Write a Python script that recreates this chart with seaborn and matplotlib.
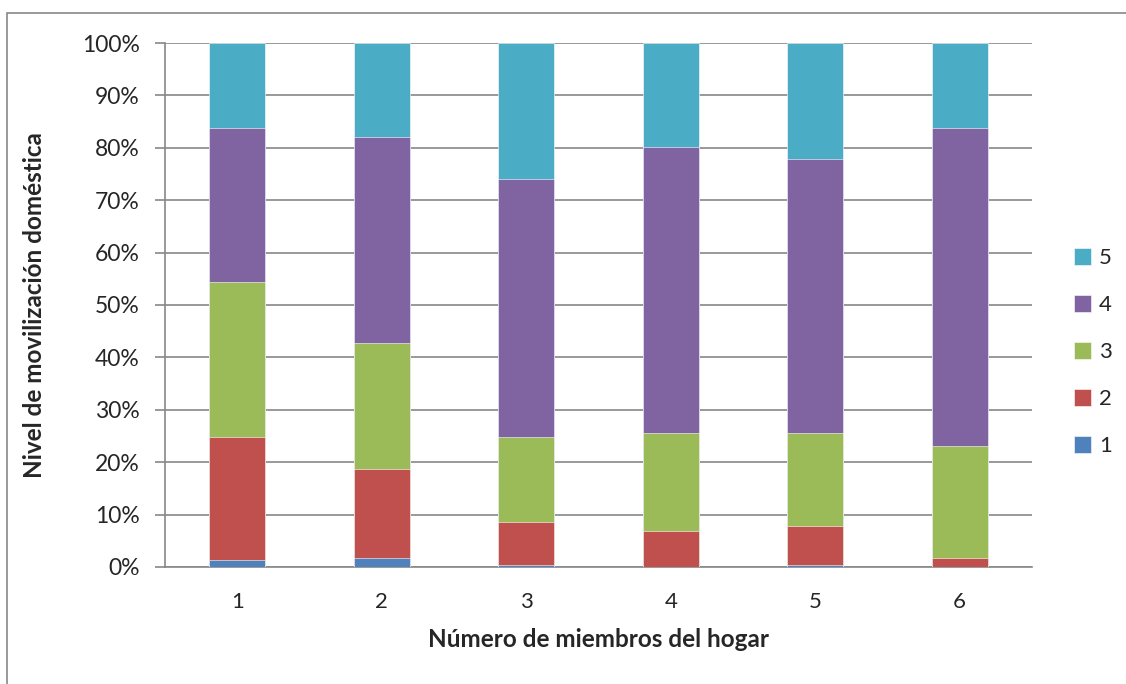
import numpy as np
import pandas as pd
import matplotlib.pyplot as plt
import seaborn as sns
from matplotlib.patches import Rectangle

# ==============================
# DATOS (porcentajes por nivel)
# ==============================
miembros = ["1", "2", "3", "4", "5", "6"]
niveles = ["1", "2", "3", "4", "5"]

nivel_1 = [1.3, 1.8, 0.4, 0.0, 0.4, 0.0]
nivel_2 = [23.5, 16.9, 8.2, 6.9, 7.5, 1.7]
nivel_3 = [29.6, 24.0, 16.2, 18.7, 17.7, 21.4]
nivel_4 = [29.4, 39.4, 49.2, 54.6, 52.3, 60.7]
nivel_5 = [16.2, 17.9, 26.0, 19.8, 22.1, 16.2]

colores = ["#4F81BD", "#C0504D", "#9BBB59", "#8064A2", "#4BACC6"]

df = pd.DataFrame({
    "miembros": miembros,
    "1": nivel_1,
    "2": nivel_2,
    "3": nivel_3,
    "4": nivel_4,
    "5": nivel_5,
})
acum = df[niveles].cumsum(axis=1)

# ==============================
# GRAFICO
# ==============================
sns.set_style("white")
plt.rcParams["font.family"] = ["Lato", "DejaVu Sans"]

fig = plt.figure(figsize=(11.26, 6.84), dpi=100)
ax = fig.add_axes([0.1465, 0.1711, 0.770, 0.766])

# barras apiladas: se dibuja de arriba hacia abajo
for nivel, color in reversed(list(zip(niveles, colores))):
    sns.barplot(
        x=df["miembros"],
        y=acum[nivel],
        color=color,
        saturation=1,
        width=0.39,
        label=nivel,
        edgecolor="white",
        linewidth=0.4,
        ax=ax,
        zorder=3,
    )

ax.set_ylim(0, 100)
ax.set_xlim(-0.5, 5.5)
ax.set_yticks(np.arange(0, 101, 10))
ax.set_yticklabels([f"{v}%" for v in range(0, 101, 10)])
ax.yaxis.grid(True, color="#888888", linewidth=1.2, zorder=0)

ax.set_xticks(np.arange(-0.5, 6, 1), minor=True)
ax.tick_params(axis="x", which="major", length=0, pad=18, labelsize=16)
ax.tick_params(axis="x", which="minor", length=8, width=1.2, color="#888888", direction="out")
ax.tick_params(axis="y", length=7, width=1.2, color="#888888", direction="out", left=True,
               labelsize=16.5, pad=11)

for lado in ["top", "right"]:
    ax.spines[lado].set_visible(False)
for lado in ["left", "bottom"]:
    ax.spines[lado].set_color("#888888")
    ax.spines[lado].set_linewidth(1.2)

ax.set_xlabel("Número de miembros del hogar", fontsize=17.5, fontweight="bold", va="center")
ax.set_ylabel("Nivel de movilización doméstica", fontsize=17.5, fontweight="bold", va="center")
ax.xaxis.set_label_coords(0.5, -0.139)
ax.yaxis.set_label_coords(-0.150, 0.5)

leg = ax.legend(
    loc="center left",
    bbox_to_anchor=(1.048, 0.41),
    frameon=False,
    fontsize=16,
    handlelength=0.8,
    handleheight=0.8,
    handletextpad=0.35,
    labelspacing=1.2,
    borderaxespad=0,
    borderpad=0,
)

# marco exterior del grafico
fig.patches.append(Rectangle((7.5 / 1126, -0.1), 1.2, (684 - 13) / 684 + 0.1,
                             transform=fig.transFigure, fill=False,
                             edgecolor="#888888", linewidth=1.2))

plt.savefig("out.png", dpi=100)
